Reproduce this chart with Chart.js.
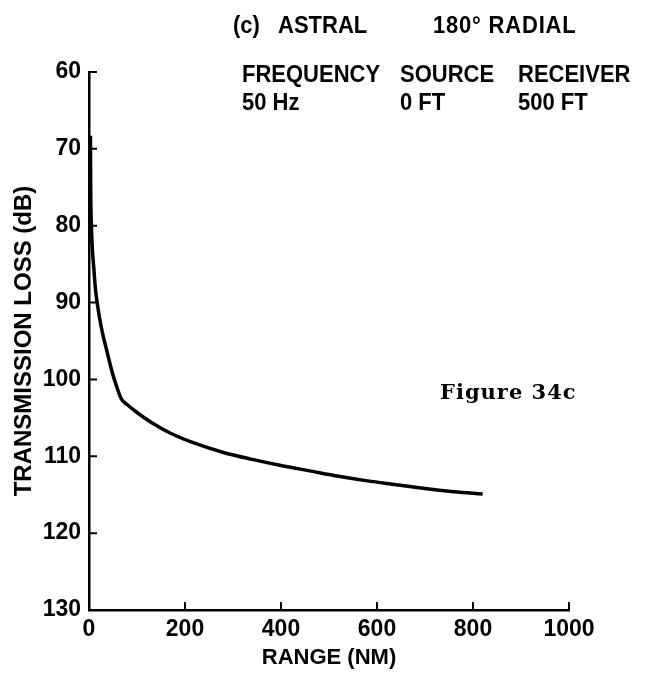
<!DOCTYPE html>
<html>
<head>
<meta charset="utf-8">
<script src="https://cdn.jsdelivr.net/npm/chart.js@4/dist/chart.umd.min.js"></script>
<style>
  html, body { margin: 0; padding: 0; background: #fff; }
  #wrap { position: relative; width: 651px; height: 679px; }
  .lbl { position: absolute; font-family: "Liberation Sans", Arial, sans-serif; font-weight: bold;
         font-size: 22px; line-height: 22px; color: #000; white-space: nowrap;
         transform: scaleY(1.12); transform-origin: left center; }
  .fig { position: absolute; font-family: "DejaVu Serif", serif; font-weight: bold;
         font-size: 21px; line-height: 22px; color: #000; letter-spacing: 1px; white-space: nowrap; }
</style>
</head>
<body>
<div id="wrap">
  <canvas id="chart" width="651" height="679"></canvas>
  <div class="lbl" style="left:233px; top:14px;">(c)</div>
  <div class="lbl" style="left:278px; top:14px;">ASTRAL</div>
  <div class="lbl" style="left:433px; top:14px; letter-spacing:0.8px;">180° RADIAL</div>
  <div class="lbl" style="left:242px; top:63px;">FREQUENCY</div>
  <div class="lbl" style="left:400px; top:63px;">SOURCE</div>
  <div class="lbl" style="left:518px; top:63px;">RECEIVER</div>
  <div class="lbl" style="left:242px; top:91px;">50 Hz</div>
  <div class="lbl" style="left:400px; top:91px;">0 FT</div>
  <div class="lbl" style="left:518px; top:91px;">500 FT</div>
  <div class="fig" style="left:440px; top:381px;">Figure 34c</div>
</div>
<script>
// range in nautical miles, transmission loss in dB
const rangeNm = [3, 3.5, 5, 7, 10, 13, 17, 22, 29, 38, 48, 58, 68, 80, 100, 130, 170, 220, 280, 340, 400, 460, 520, 580, 640, 700, 760, 820];
const lossDb  = [68.3, 75, 80, 83, 85.5, 88, 90, 92, 94.2, 96.5, 99, 101, 102.6, 103.3, 104.3, 105.6, 107, 108.3, 109.5, 110.4, 111.2, 111.9, 112.6, 113.2, 113.7, 114.2, 114.6, 114.9];

const xTicks = [0, 200, 400, 600, 800, 1000];
const yTicks = [60, 70, 80, 90, 100, 110, 120, 130];

const points = rangeNm.map((r, i) => ({ x: r, y: lossDb[i] }));

const tickFont = { family: '"Liberation Sans", Arial, sans-serif', size: 23, weight: 'bold' };
const xTitleFont = { family: '"Liberation Sans", Arial, sans-serif', size: 22, weight: 'bold' };
const yTitleFont = { family: '"Liberation Sans", Arial, sans-serif', size: 24, weight: 'bold' };

// tick marks pointing into the plot, like the original
const innerTicks = {
  id: 'innerTicks',
  afterDraw(chart) {
    const { ctx, chartArea, scales } = chart;
    ctx.save();
    ctx.strokeStyle = '#000';
    ctx.lineWidth = 2;
    ctx.beginPath();
    xTicks.forEach(v => {
      const px = scales.x.getPixelForValue(v);
      ctx.moveTo(px, chartArea.bottom);
      ctx.lineTo(px, chartArea.bottom - 8);
    });
    yTicks.forEach(v => {
      const py = scales.y.getPixelForValue(v);
      ctx.moveTo(chartArea.left, py);
      ctx.lineTo(chartArea.left + 8, py);
    });
    ctx.stroke();
    ctx.restore();
  }
};

new Chart(document.getElementById('chart'), {
  type: 'scatter',
  data: {
    datasets: [{
      data: points,
      showLine: true,
      borderColor: '#000',
      borderWidth: 3.5,
      pointRadius: 0,
      cubicInterpolationMode: 'monotone'
    }]
  },
  options: {
    responsive: false,
    animation: false,
    layout: { padding: { left: 0, top: 72, right: 82, bottom: 0 } },
    plugins: { legend: { display: false }, tooltip: { enabled: false } },
    scales: {
      x: {
        type: 'linear',
        min: 0, max: 1000,
        afterFit: s => { s.height = 69; },
        afterBuildTicks: s => { s.ticks = xTicks.map(v => ({ value: v })); },
        border: { display: true, color: '#000', width: 2.5 },
        grid: { display: false, drawTicks: false },
        ticks: { color: '#000', font: tickFont, padding: 6, maxRotation: 0, callback: v => String(v) },
        title: { display: true, text: 'RANGE (NM)', color: '#000', font: xTitleFont, padding: { top: 0, bottom: 8 } }
      },
      y: {
        type: 'linear',
        reverse: true,
        min: 60, max: 130,
        afterFit: s => { s.width = 89; },
        afterBuildTicks: s => { s.ticks = yTicks.map(v => ({ value: v })); },
        border: { display: true, color: '#000', width: 2.5 },
        grid: { display: false, drawTicks: false },
        ticks: { color: '#000', font: tickFont, padding: 8, callback: v => String(v) },
        title: { display: true, text: 'TRANSMISSION LOSS (dB)', color: '#000', font: yTitleFont, padding: { top: 10, bottom: 0 } }
      }
    }
  },
  plugins: [innerTicks]
});
</script>
</body>
</html>
